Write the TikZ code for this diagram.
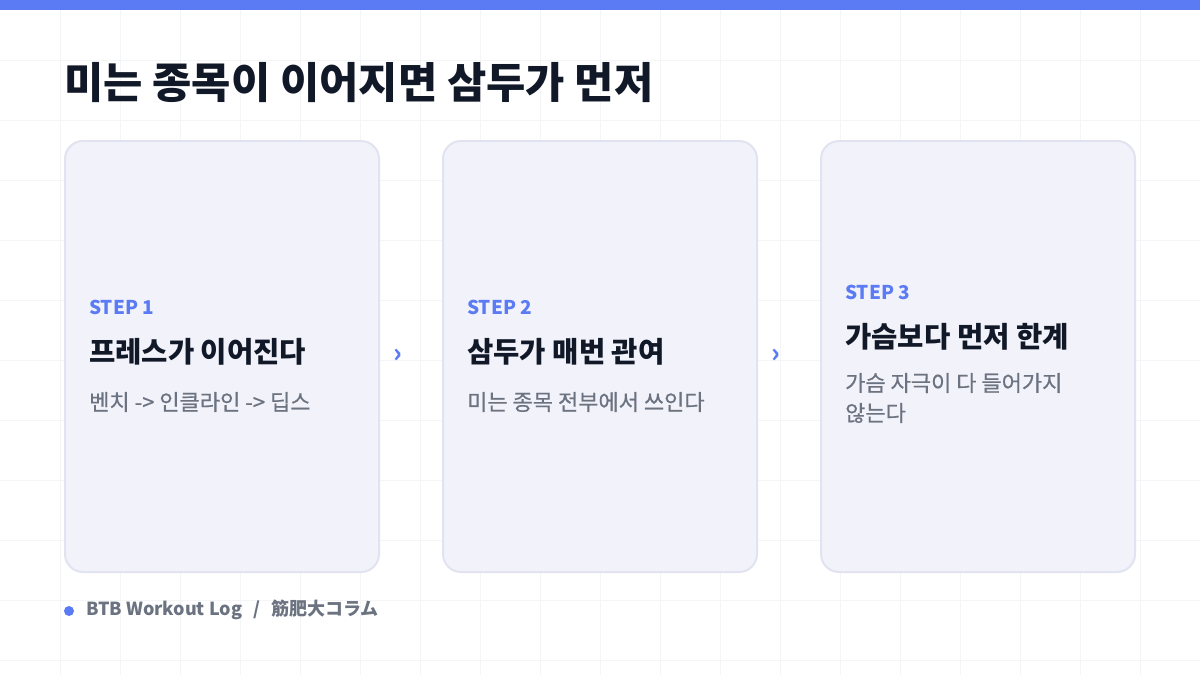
\documentclass[tikz,border=0pt]{standalone}
\usepackage{fontspec}
\setmainfont{Noto Sans CJK KR}
\newfontfamily\jpfont{Noto Sans CJK JP}
\newfontfamily\medfont[FakeBold=0.6]{Noto Sans CJK KR}
\definecolor{accent}{HTML}{5B7BF5}
\definecolor{titlec}{HTML}{111827}
\definecolor{subc}{HTML}{6B7280}
\definecolor{cardfill}{HTML}{F2F3FA}
\definecolor{cardline}{HTML}{E1E4F0}
\definecolor{gridc}{HTML}{F4F5F7}
\tikzset{
  card/.style={draw=cardline, line width=2pt, fill=cardfill, rounded corners=18pt},
  steplbl/.style={anchor=west, inner sep=0pt, text=accent, font=\fontsize{19}{22}\selectfont\bfseries},
  headlbl/.style={anchor=west, inner sep=0pt, text=titlec, font=\fontsize{28.6}{32}\selectfont\bfseries},
  sublbl/.style={anchor=west, inner sep=0pt, text=subc, font=\fontsize{22}{30}\medfont, align=left},
  chev/.style={text=accent, inner sep=0pt, font=\fontsize{26}{28}\selectfont\bfseries}
}
\begin{document}
\begin{tikzpicture}[x=1pt,y=-1pt]
\useasboundingbox (0,0) rectangle (1200,675);
\fill[white] (0,0) rectangle (1200,675);
\foreach \gx in {60,120,...,1140} \draw[gridc, line width=1pt] (\gx,0) -- (\gx,675);
\foreach \gy in {60,120,...,660} \draw[gridc, line width=1pt] (0,\gy) -- (1200,\gy);
\fill[accent] (0,0) rectangle (1200,10);
\node[anchor=west, inner sep=0pt, text=titlec, font=\fontsize{42.7}{48}\selectfont\bfseries] (title) at (64,83) {미는 종목이 이어지면 삼두가 먼저};
% cards
\draw[card] (65,141) rectangle (379,572);
\coordinate (c1) at (222,356);
\draw[card] (443,141) rectangle (757,572);
\coordinate (c2) at (600,356);
\draw[card] (821,141) rectangle (1135,572);
\coordinate (c3) at (978,356);
% card 1
\node[steplbl] (s1) at (89,307) {STEP 1};
\node[headlbl] (h1) at (89,352) {프레스가 이어진다};
\node[sublbl] (d1) at (89,402) {벤치 -> 인클라인 -> 딥스};
% card 2
\node[steplbl] (s2) at (467,307) {STEP 2};
\node[headlbl] (h2) at (467,352) {삼두가 매번 관여};
\node[sublbl] (d2) at (467,402) {미는 종목 전부에서 쓰인다};
% card 3
\node[steplbl] (s3) at (845,292) {STEP 3};
\node[headlbl] (h3) at (845,337) {가슴보다 먼저 한계};
\node[sublbl] (d3) at (845,398) {가슴 자극이 다 들어가지\\않는다};
% chevrons
\node[chev] (a1) at (398,356) {›};
\node[chev] (a2) at (776,356) {›};
% footer
\fill[accent] (69,611) circle (5pt);
\node[anchor=west, inner sep=0pt, text=subc, font=\fontsize{18}{22}\selectfont\bfseries] (foot) at (86,610) {BTB Workout Log\ \ \,/\ \ \,{\jpfont\bfseries 筋肥大コラム}};
\end{tikzpicture}
\end{document}
